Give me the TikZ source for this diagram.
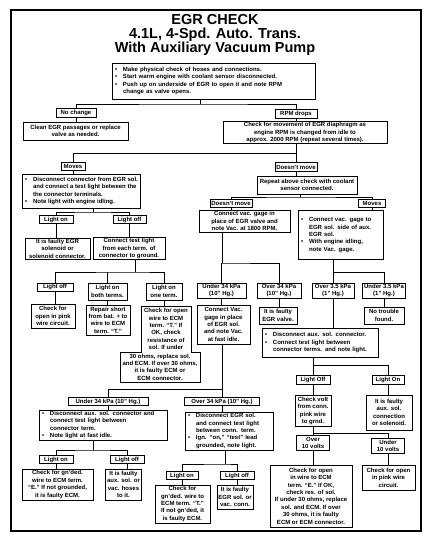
\documentclass[tikz,border=0pt]{standalone}
\usepackage{fontspec}
\setmainfont{Liberation Sans}
\newcommand{\bodyf}{\fontsize{6}{7.4}\selectfont\bfseries}
\newcommand{\bulx}{\makebox[8pt][l]{\textbullet}}
\newcommand{\indx}{\hspace*{8pt}}
\begin{document}
\begin{tikzpicture}[x=1pt,y=-1pt,
  box/.style={draw, line width=0.7pt, inner sep=1pt, align=center, font=\bodyf},
  sz/.style 2 args={minimum width=#1pt, minimum height=#2pt},
  bb/.style={draw, line width=0.7pt, inner xsep=3pt, inner ysep=1pt, align=left, font=\bodyf},
  txt/.style={inner sep=0pt, align=center, font=\bodyf},
  ln/.style={line width=0.6pt},
  ttl/.style={font=\fontsize{14.5}{16}\selectfont\bfseries, inner sep=0pt, anchor=base}]
\fill[white] (0,0) rectangle (431,544);
\useasboundingbox (0,0) rectangle (431,544);
\draw[line width=2.5pt] (11,10) rectangle (421,531);

\node[ttl] (t1) at (215,24) {EGR CHECK};
\node[ttl] (t2) at (215,38) {4.1L, 4-Spd. Auto. Trans.};
\node[ttl] (t3) at (215,52.5) {With Auxiliary Vacuum Pump};

\node[bb, text width=197pt, minimum height=36pt] (top) at (213.5,81) {\bulx Make physical check of hoses and connections.\\\bulx Start warm engine with coolant sensor disconnected.\\\bulx Push up on underside of EGR to open it and note RPM\\\indx change as valve opens.};

\node[box, sz={40}{9}] (nochange) at (76,113) {No change};
\node[box, sz={42}{9}] (rpm) at (296,114) {RPM drops};
\node[box, sz={105}{18}] (clean) at (75.5,131) {Clean EGR passages or replace\\valve as needed.};
\node[box, sz={164}{21}] (check) at (305,132.5) {Check for movement of EGR diaphragm as\\engine RPM is changed from idle to\\approx. 2000 RPM (repeat several times).};
\node[box, sz={24}{8.5}] (moves1) at (73,166.5) {Moves};
\node[box, sz={42}{8.5}] (dm1) at (296,167) {Doesn't move};
\node[bb, minimum width=117pt, minimum height=34pt] (disc1) at (81.5,191) {\bulx Disconnect connector from EGR sol.\\\indx and connect a test light between the\\\indx the connector terminals.\\\bulx Note light with engine idling.};
\node[box, sz={100}{18}] (repeat) at (307,185) {Repeat above check with coolant\\sensor connected.};
\node[box, sz={42}{8}] (dm2) at (231,203.5) {Doesn't move};
\node[box, sz={27}{8}] (moves2) at (372,203.5) {Moves};
\node[box, sz={34}{8}] (lon1) at (56,219.5) {Light on};
\node[box, sz={33}{8}] (loff1) at (129.5,219.5) {Light off};
\node[box, sz={91}{22}] (vac1) at (244.5,221) {Connect vac. gage in\\place of EGR valve and\\note Vac. at 1800 RPM.};
\node[bb, text width=79pt, minimum height=49pt] (vac2) at (340.5,235) {\bulx Connect vac. gage to\\\indx EGR sol. side of aux.\\\indx EGR sol.\\\bulx With engine idling,\\\indx note Vac. gage.};
\node[box, sz={65}{21}] (faulty1) at (57.5,248.5) {It is faulty EGR\\solenoid or\\solenoid connector.};
\node[box, sz={72}{21}] (conn1) at (129,248.5) {Connect test light\\from each term. of\\connector to ground.};
\node[box, sz={36}{8}] (loff2) at (55,287) {Light off};
\node[box, sz={39}{17}] (lonboth) at (107.5,291.5) {Light on\\both terms.};
\node[box, sz={36}{17}] (lonone) at (164,291.5) {Light on\\one term.};
\node[box, sz={49}{15}] (u34a) at (221.5,290.5) {Under 34 kPa\\(10'' Hg.)};
\node[box, sz={44}{15}] (o34a) at (279,290.5) {Over 34 kPa\\(10'' Hg.)};
\node[box, sz={42}{15}] (o35) at (333,290.5) {Over 3.5 kPa\\(1'' Hg.)};
\node[box, sz={43}{15}] (u35) at (384,290.5) {Under 3.5 kPa\\(1'' Hg.)};
\node[box, sz={44}{24}] (pink1) at (53,316) {Check for\\open in pink\\wire circuit.};
\node[box, sz={44}{30}] (repair) at (108,320) {Repair short\\from bat. + to\\wire to ECM\\term. ``T.''};
\draw[line width=0.7pt] (141,306) -- (191,306) -- (191,352) -- (200,352) -- (200,382) -- (120,382) -- (120,352) -- (141,352) -- cycle;
\coordinate (ttop) at (166,306);
\node[txt] (tu) at (166,329) {Check for open\\wire to ECM\\term. ``T.'' If\\OK, check\\resistance of\\sol. If under};
\node[txt] (tl) at (160,367) {30 ohms, replace sol.\\and ECM. If over 30 ohms,\\it is faulty ECM or\\ECM connector.};
\node[box, sz={53}{39}] (vac3) at (223.5,324.5) {Connect Vac.\\gage in place\\of EGR sol.\\and note Vac.\\at fast idle.};
\node[box, sz={38}{17}] (fvalve) at (278,315.5) {It is faulty\\EGR valve.};
\node[box, sz={40}{17}] (notrouble) at (384,315.5) {No trouble\\found.};
\node[bb, text width=110pt, minimum height=29pt] (disc2) at (320,342.5) {\bulx Disconnect aux. sol. connector.\\\bulx Connect test light between\\\indx connector terms. and note light.};
\node[box, sz={34}{8.5}] (loff3) at (313,380) {Light Off};
\node[box, sz={32}{8.5}] (lon3) at (388,380) {Light On};
\node[box, sz={80}{8.5}] (u34b) at (108,401.5) {Under 34 kPa (10'' Hg.)};
\node[box, sz={75}{8.5}] (o34b) at (222,401.5) {Over 34 kPa (10'' Hg.)};
\node[box, sz={36}{31}] (cvolt) at (313,411) {Check volt\\from conn.\\pink wire\\to grnd.};
\node[box, sz={46}{35}] (faux) at (389,412.5) {It is faulty\\aux. sol.\\connection\\or solenoid.};
\node[bb, text width=122pt, minimum height=30pt] (disc3) at (103,425) {\bulx Disconnect aux. sol. connector and\\\indx connect test light between\\\indx connector term.\\\bulx Note light at fast idle.};
\node[bb, text width=82pt, minimum height=38pt] (disc4) at (229,431) {\bulx Disconnect EGR sol.\\\indx and connect test light\\\indx between conn. term.\\\bulx Ign. ``on,'' ``test'' lead\\\indx grounded, note light.};
\node[box, sz={33}{15}] (o10) at (313,443) {Over\\10 volts};
\node[box, sz={33}{15}] (u10) at (388,446) {Under\\10 volts};
\node[box, sz={34}{8}] (lon4) at (56,459.5) {Light on};
\node[box, sz={34}{8}] (loff4) at (127,459.5) {Light off};
\node[box, sz={32}{8}] (lon5) at (182,475.5) {Light on};
\node[box, sz={34}{8}] (loff5) at (237,475.5) {Light off};
\node[box, sz={71}{31}] (gnd1) at (57.5,484.5) {Check for gn'ded.\\wire to ECM term.\\``E.'' If not grounded,\\it is faulty ECM.};
\node[box, sz={36}{31}] (faux2) at (123.5,484.5) {It is faulty\\aux. sol. or\\vac. hoses\\to it.};
\node[box, sz={55}{38}] (gnd2) at (182.5,504) {Check for\\gn'ded. wire to\\ECM term. ``T.''\\If not gn'ded, it\\is faulty ECM.};
\node[box, sz={36}{24}] (fegr) at (235,497) {It is faulty\\EGR sol. or\\vac. conn.};
\node[box, sz={82}{62}] (openecm) at (311,496) {Check for open\\in wire to ECM\\term. ``E.'' If OK,\\check res. of sol.\\If under 30 ohms, replace\\sol. and ECM. If over\\30 ohms, it is faulty\\ECM or ECM connector.};
\node[box, sz={53}{25}] (pink2) at (388.5,477.5) {Check for open\\in pink wire\\circuit.};

% connectors
\coordinate (j1) at (200,104);
\draw[ln] (top.south -| j1) -- (j1);
\draw[ln] (nochange.north) |- (j1) -| (rpm.north);
\draw[ln] (nochange.south) -- (nochange.south |- clean.north);
\draw[ln] (rpm.south) -- (rpm.south |- check.north);
\coordinate (j2) at (296,153);
\draw[ln] (check.south -| j2) -- (dm1.north);
\draw[ln] (moves1.north) |- (j2);
\draw[ln] (moves1.south) -- (moves1.south |- disc1.north);
\draw[ln] (dm1.south) -- (dm1.south |- repeat.north);
\coordinate (j3) at (300,197);
\draw[ln] (repeat.south -| j3) -- (j3);
\draw[ln] (dm2.north) |- (j3) -| (moves2.north);
\draw[ln] (dm2.south) -- (dm2.south |- vac1.north);
\draw[ln] (moves2.south) -- (moves2.south |- vac2.north);
\coordinate (j4) at (93,212);
\draw[ln] (disc1.south -| j4) -- (j4);
\draw[ln] (lon1.north) |- (j4) -| (loff1.north);
\draw[ln] (lon1.south) -- (lon1.south |- faulty1.north);
\draw[ln] (loff1.south) -- (loff1.south |- conn1.north);
\coordinate (j5) at (135,272);
\draw[ln] (conn1.south -| j5) -- (j5);
\draw[ln] (loff2.north) |- (j5) -| (lonone.north);
\draw[ln] (lonboth.north) -- (lonboth.north |- j5);
\draw[ln] (loff2.south) -- (loff2.south |- pink1.north);
\draw[ln] (lonboth.south) -- (lonboth.south |- repair.north);
\draw[ln] (lonone.south) -- (lonone.south |- ttop);
\coordinate (j6) at (222,263);
\draw[ln] (vac1.south -| j6) -- (j6);
\draw[ln] (u34a.north) |- (j6) -| (o34a.north);
\draw[ln] (u34a.south) -- (u34a.south |- vac3.north);
\draw[ln] (o34a.south) -- (o34a.south |- fvalve.north);
\coordinate (j7) at (333,272);
\draw[ln] (vac2.south -| j7) -- (o35.north);
\draw[ln] (j7) -| (u35.north);
\draw[ln] (o35.south) -- (o35.south |- disc2.north);
\draw[ln] (u35.south) -- (u35.south |- notrouble.north);
\coordinate (j8) at (313,365);
\draw[ln] (disc2.south -| j8) -- (loff3.north);
\draw[ln] (j8) -| (lon3.north);
\draw[ln] (loff3.south) -- (cvolt.north);
\draw[ln] (lon3.south) -- (lon3.south |- faux.north);
\coordinate (j9) at (313,433);
\draw[ln] (cvolt.south) -- (o10.north);
\draw[ln] (j9) -| (u10.north);
\draw[ln] (o10.south) -- (o10.south |- openecm.north);
\draw[ln] (u10.south) -- (u10.south |- pink2.north);
\coordinate (j10) at (222,389);
\draw[ln] (vac3.south -| j10) -- (o34b.north);
\draw[ln] (j10) -| (u34b.north);
\draw[ln] (u34b.south) -- (u34b.south |- disc3.north);
\draw[ln] (o34b.south) -- (o34b.south |- disc4.north);
\coordinate (j11) at (93,450);
\draw[ln] (disc3.south -| j11) -- (j11);
\draw[ln] (lon4.north) |- (j11) -| (loff4.north);
\draw[ln] (lon4.south) -- (lon4.south |- gnd1.north);
\draw[ln] (loff4.south) -- (loff4.south |- faux2.north);
\coordinate (j12) at (225,464);
\draw[ln] (disc4.south -| j12) -- (j12);
\draw[ln] (lon5.north) |- (j12) -| (loff5.north);
\draw[ln] (lon5.south) -- (lon5.south |- gnd2.north);
\draw[ln] (loff5.south) -- (loff5.south |- fegr.north);
\end{tikzpicture}
\end{document}
